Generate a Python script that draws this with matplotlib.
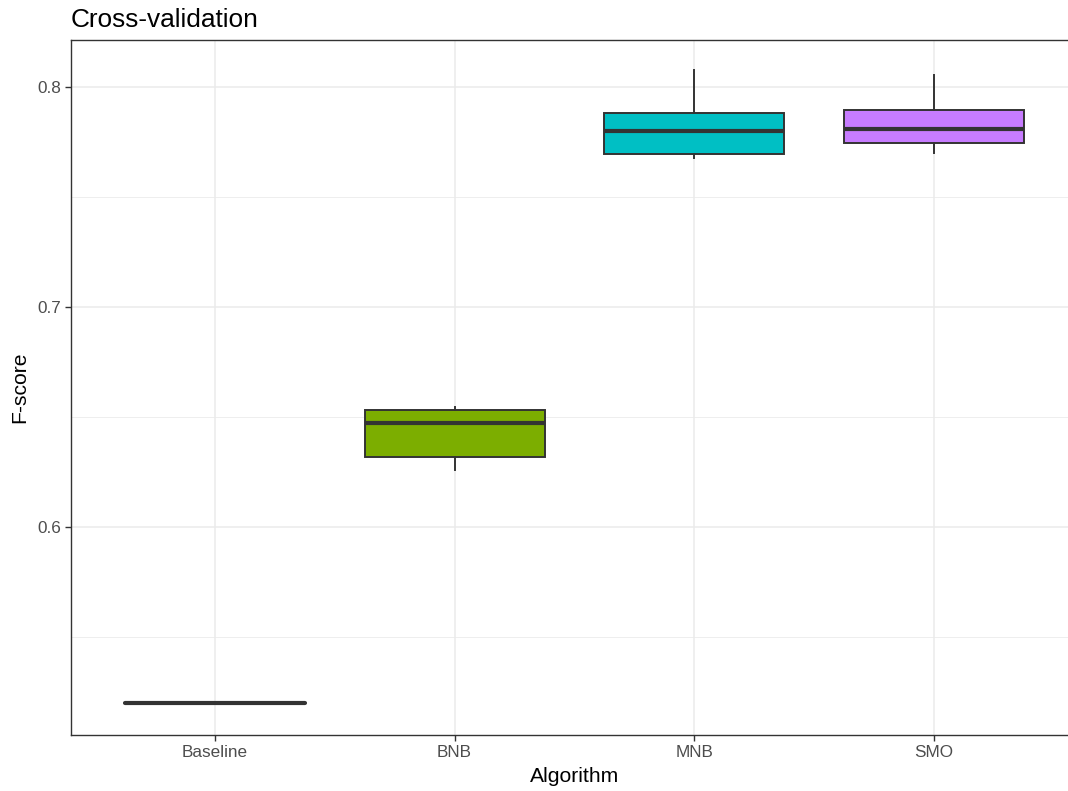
import matplotlib
matplotlib.use('Agg')
import matplotlib.pyplot as plt
from matplotlib.ticker import MultipleLocator

plt.rcParams['font.family'] = ['Liberation Sans', 'DejaVu Sans']

# values
algorithms = ['Baseline', 'BNB', 'MNB', 'SMO']
whisker_low = [0.520, 0.6259, 0.7680, 0.7700]
q1 = [0.520, 0.6320, 0.7697, 0.7745]
median = [0.520, 0.6474, 0.7800, 0.7809]
q3 = [0.520, 0.6535, 0.7885, 0.7899]
whisker_high = [0.520, 0.6547, 0.8077, 0.8056]
fills = ['#F8766D', '#7CAE00', '#00BFC4', '#C77CFF']

W, H = 1068, 791
fig = plt.figure(figsize=(W / 100, H / 100), dpi=100)
# panel runs past the right edge of the picture, as in the reference
ax = fig.add_axes([71 / W, 1 - 735 / H, (1078 - 71) / W, (735 - 40) / H])

stats = []
for i, name in enumerate(algorithms):
    stats.append(dict(label=name, whislo=whisker_low[i], q1=q1[i], med=median[i],
                      q3=q3[i], whishi=whisker_high[i], fliers=[]))

edge = '#333333'
bp = ax.bxp(stats, positions=range(1, len(algorithms) + 1), widths=0.75,
            patch_artist=True, showcaps=False, zorder=3,
            boxprops=dict(edgecolor=edge, linewidth=1.4),
            whiskerprops=dict(color=edge, linewidth=1.4),
            medianprops=dict(color=edge, linewidth=3.0, solid_capstyle='butt'))
for patch, c in zip(bp['boxes'], fills):
    patch.set_facecolor(c)
# flat baseline box: just a thick line like ggplot
bp['boxes'][0].set_facecolor('none')
bp['medians'][0].set_solid_capstyle('round')

ax.set_xlim(0.4, 4.6)
ax.set_ylim(0.5056, 0.8215)
ax.yaxis.set_minor_locator(MultipleLocator(0.05))
ax.set_yticks([0.6, 0.7, 0.8])
ax.set_yticklabels(['0.6', '0.7', '0.8'])

ax.grid(True, which='major', color='#EBEBEB', linewidth=1.1, zorder=0)
ax.grid(True, which='minor', axis='y', color='#EBEBEB', linewidth=0.6, zorder=0)
ax.set_axisbelow(True)

for s in ax.spines.values():
    s.set_color('#333333')
    s.set_linewidth(1.0)

ax.tick_params(which='major', length=4, width=1, color='#333333',
               labelsize=12.3, labelcolor='#4D4D4D', pad=3)
ax.tick_params(which='minor', length=0)

ax.set_xlabel('Algorithm', fontsize=15.2, color='black', labelpad=5)
ax.set_ylabel('F-score', fontsize=15.2, color='black', labelpad=6)
fig.text(71 / W, 1 - 27 / H, 'Cross-validation', fontsize=18.9, color='black',
         ha='left', va='baseline')

fig.savefig('out.png', dpi=100)
